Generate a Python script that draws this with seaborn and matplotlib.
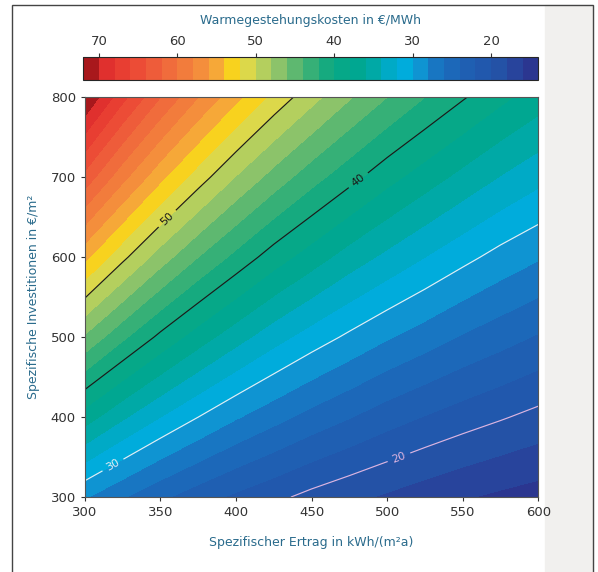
import matplotlib
matplotlib.use("Agg")
import matplotlib.pyplot as plt
from matplotlib.colors import ListedColormap, BoundaryNorm
from matplotlib.patches import Rectangle
import numpy as np
import seaborn as sns

# Spezifischer Ertrag kWh/(m²a) (x) und spezifische Investitionen €/m² (y)
ertrag = [300, 325, 350, 375, 400, 425, 450, 475, 500, 525, 550, 575, 600]
invest = [300, 400, 500, 600, 700, 800]

# Wärmegestehungskosten €/MWh, Zeilen = invest, Spalten = ertrag
kosten = [
    [28.2, 26.2, 24.4, 22.9, 21.6, 20.5, 19.4, 18.5, 17.7, 16.9, 16.2, 15.6, 15.1],
    [37.0, 34.3, 32.0, 30.0, 28.2, 26.7, 25.3, 24.1, 22.9, 21.9, 21.0, 20.2, 19.4],
    [45.7, 42.4, 39.5, 37.0, 34.8, 32.8, 31.1, 29.6, 28.2, 27.0, 25.8, 24.8, 23.8],
    [54.5, 50.5, 47.0, 44.0, 41.4, 39.0, 37.0, 35.1, 33.5, 32.0, 30.6, 29.3, 28.2],
    [63.3, 58.6, 54.5, 51.0, 47.9, 45.2, 42.8, 40.7, 38.7, 37.0, 35.4, 33.9, 32.6],
    [72.0, 66.6, 62.0, 58.0, 54.5, 51.4, 48.7, 46.2, 44.0, 42.0, 40.2, 38.5, 37.0],
]

levels = list(range(14, 74, 2))
line_levels = [20, 30, 40, 50]
line_colors = ["#dcb4e0", "#e4ecf4", "#1a1a1a", "#1a1a1a"]
cbar_ticks = [70, 60, 50, 40, 30, 20]

# Bandfarben von 14 bis 72
band_colors = [
    "#2b3690", "#28449c", "#2452a6", "#2158ad", "#1f5fb2", "#1c68b9",
    "#1876c2", "#0f94d2", "#00acdc", "#00aac6", "#00a9a6", "#00a791",
    "#06a888", "#16aa7f", "#36b077", "#5eb870", "#8cc36a", "#b4cf5e",
    "#dcd84a", "#f8d21e", "#f6a838", "#f48e3c", "#f27c3c", "#f06c3c",
    "#ee5c3a", "#ec4c36", "#e83e32", "#e0302e", "#a8181c",
]

sns.set_theme(style="ticks")
plt.rcParams["font.family"] = ["DejaVu Sans"]

cmap = ListedColormap(sns.color_palette(band_colors))
norm = BoundaryNorm(levels, cmap.N)

fig = plt.figure(figsize=(5.98, 5.72), dpi=100)
ax = fig.add_axes([0.142, 0.131, 0.758, 0.699])
cax = fig.add_axes([0.139, 0.860, 0.761, 0.040])

X, Y = np.meshgrid(ertrag, invest)
Z = np.array(kosten)

cf = ax.contourf(X, Y, Z, levels=levels, cmap=cmap, norm=norm)
cs = ax.contour(X, Y, Z, levels=line_levels, colors=line_colors, linewidths=0.85)
ax.clabel(cs, fmt="%d", fontsize=8, inline=True,
          manual=[(508, 349), (318, 342), (477, 706), (351, 655)])

ax.set_xlim(300, 600)
ax.set_ylim(300, 800)
ax.set_xticks([300, 350, 400, 450, 500, 550, 600])
ax.set_yticks([300, 400, 500, 600, 700, 800])
ax.tick_params(labelsize=9.5, colors="#333333", length=3, width=0.8)
for s in ax.spines.values():
    s.set_linewidth(0.8)
    s.set_color("#555555")

label_color = "#2a6b8c"
ax.set_xlabel("Spezifischer Ertrag in kWh/(m²a)", fontsize=9, color=label_color, labelpad=12)
ax.set_ylabel("Spezifische Investitionen in €/m²", fontsize=9, color=label_color, labelpad=8)

cb = fig.colorbar(cf, cax=cax, orientation="horizontal", ticks=cbar_ticks)
cax.minorticks_off()
cax.invert_xaxis()
cax.xaxis.set_ticks_position("top")
cax.xaxis.set_label_position("top")
cax.tick_params(labelsize=9.5, colors="#333333", length=3, width=0.8)
cb.outline.set_linewidth(0.8)
cb.set_label("Warmegestehungskosten in €/MWh", fontsize=9, color=label_color, labelpad=8)

# heller Rand rechts und Rahmen
fig.add_artist(Rectangle((545 / 598, 0), 48 / 598, 1 - 5 / 572,
                         transform=fig.transFigure, color="#f1f0ee", zorder=-1))
fig.add_artist(Rectangle((12 / 598, -0.01), 581 / 598, 1.01 - 5 / 572,
                         transform=fig.transFigure, fill=False,
                         edgecolor="#444444", linewidth=1.0))

fig.savefig("out.png", dpi=100)
